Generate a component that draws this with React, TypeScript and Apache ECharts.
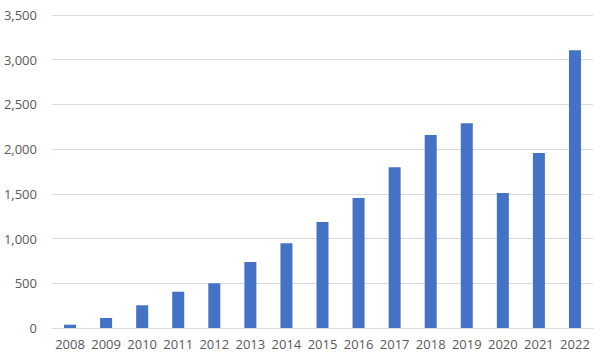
import React, { useEffect, useRef } from "react";
import * as echarts from "echarts";

const categories = ["2008","2009","2010","2011","2012","2013","2014","2015","2016","2017","2018","2019","2020","2021","2022"];
const values = [37, 112, 254, 406, 500, 738, 947, 1185, 1454, 1797, 2158, 2289, 1510, 1957, 3105];

export default function App() {
  const ref = useRef<HTMLDivElement>(null);
  useEffect(() => {
    const chart = echarts.init(ref.current!, null, { renderer: "svg" });
    chart.setOption({
      animation: false,
      grid: { left: 52, right: 7, top: 15, bottom: 31 },
      xAxis: {
        type: "category",
        data: categories,
        axisLine: { lineStyle: { color: "#d9d9d9" } },
        axisTick: { show: false },
        axisLabel: { color: "#595959", fontSize: 13, fontFamily: "Open Sans", margin: 9, interval: 0, hideOverlap: false },
      },
      yAxis: {
        type: "value",
        min: 0,
        max: 3500,
        interval: 500,
        axisLine: { show: false },
        axisTick: { show: false },
        splitLine: { lineStyle: { color: "#d9d9d9" } },
        axisLabel: {
          color: "#595959",
          fontSize: 13,
          fontFamily: "Open Sans",
          margin: 15,
          formatter: (v: number) => v.toLocaleString("en-US"),
        },
      },
      series: [
        {
          type: "bar",
          data: values,
          barWidth: 12,
          itemStyle: { color: "#4472C4" },
        },
      ],
    });
    return () => chart.dispose();
  }, []);
  return <div ref={ref} style={{ width: 600, height: 359, position: "absolute", left: 0, top: 0 }} />;
}
